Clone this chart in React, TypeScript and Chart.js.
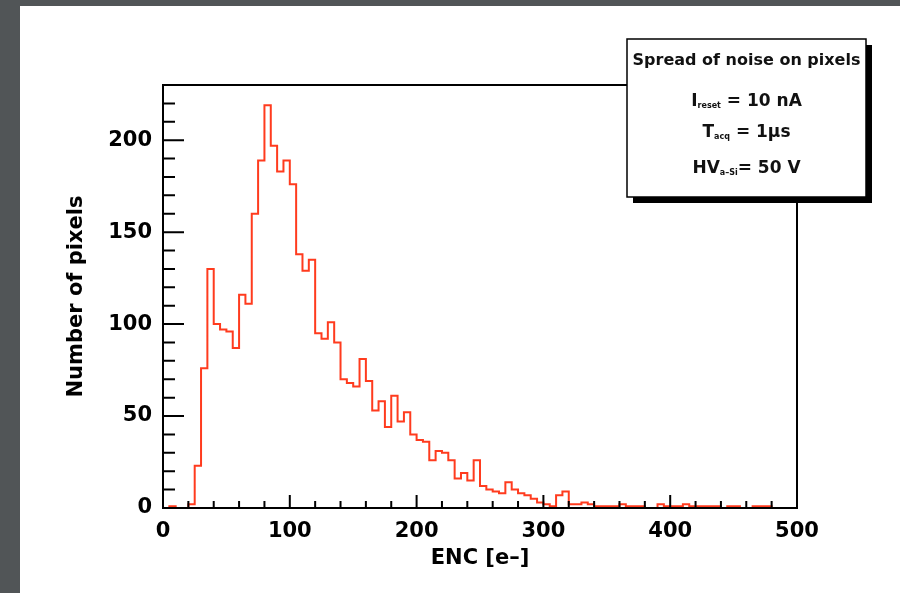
import React, { useEffect, useRef } from 'react';
import { Chart, registerables } from 'chart.js';

Chart.register(...registerables);

// ---- data ----
const BIN_WIDTH = 5;
const X_START = 0;
const COUNTS = [
  0, 1, 0, 0, 2, 23, 76, 130, 100, 97,
  96, 87, 116, 111, 160, 189, 219, 197, 183, 189,
  176, 138, 129, 135, 95, 92, 101, 90, 70, 68,
  66, 81, 69, 53, 58, 44, 61, 47, 52, 40,
  37, 36, 26, 31, 30, 26, 16, 19, 15, 26,
  12, 10, 9, 8, 14, 10, 8, 7, 5, 3,
  2, 1, 7, 9, 2, 2, 3, 2, 1, 1,
  1, 1, 2, 1, 1, 1, 0, 0, 2, 1,
  1, 1, 2, 1, 1, 1, 1, 1, 0, 1,
  1, 0, 0, 1, 1, 1, 0, 0, 0, 0,
];
const X_RANGE = [0, 500];
const Y_RANGE = [0, 230];
const X_TICKS = [0, 100, 200, 300, 400, 500];
const Y_TICKS = [0, 50, 100, 150, 200];
const X_MINOR_STEP = 20;
const Y_MINOR_STEP = 10;
const X_TITLE = 'ENC [e–]';
const Y_TITLE = 'Number of pixels';
const BOX_TITLE = 'Spread of noise on pixels';
const BOX_LINES = [
  [{ text: 'I' }, { text: 'reset', sub: true }, { text: ' = 10 nA' }],
  [{ text: 'T' }, { text: 'acq', sub: true }, { text: ' = 1μs' }],
  [{ text: 'HV' }, { text: 'a–Si', sub: true }, { text: '= 50 V' }],
];

const FONT = 'DejaVu Sans';
const LINE_COLOR = '#ff3b1e';

function drawRich(ctx: CanvasRenderingContext2D, parts: any[], cx: number, baseline: number) {
  const main = `bold 17px "${FONT}"`;
  const sub = `bold 8px "${FONT}"`;
  let total = 0;
  const widths = parts.map((p) => {
    ctx.font = p.sub ? sub : main;
    const w = ctx.measureText(p.text).width;
    total += w;
    return w;
  });
  let x = cx - total / 2;
  parts.forEach((p, i) => {
    ctx.font = p.sub ? sub : main;
    ctx.fillText(p.text, x, p.sub ? baseline + 2 : baseline);
    x += widths[i];
  });
}

const framePlugin = {
  id: 'rootFrame',
  beforeDraw(chart: any) {
    const { ctx, width, height } = chart;
    ctx.save();
    ctx.fillStyle = '#515557';
    ctx.fillRect(0, 0, width, height);
    ctx.fillStyle = '#ffffff';
    ctx.fillRect(20, 6, width - 20, height - 6);
    ctx.restore();
  },
  afterDraw(chart: any) {
    const { ctx, chartArea: a, scales } = chart;
    const xs = scales.x;
    const ys = scales.y;
    ctx.save();
    ctx.strokeStyle = '#000';
    ctx.lineWidth = 2;
    ctx.strokeRect(a.left, a.top, a.right - a.left, a.bottom - a.top);
    ctx.beginPath();
    for (let v = X_RANGE[0]; v <= X_RANGE[1]; v += X_MINOR_STEP) {
      const px = xs.getPixelForValue(v);
      const len = X_TICKS.includes(v) ? 13 : 7;
      ctx.moveTo(px, a.bottom);
      ctx.lineTo(px, a.bottom - len);
    }
    for (let v = Y_RANGE[0]; v <= Y_RANGE[1]; v += Y_MINOR_STEP) {
      const py = ys.getPixelForValue(v);
      const len = Y_TICKS.includes(v) ? 21 : 12;
      ctx.moveTo(a.left, py);
      ctx.lineTo(a.left + len, py);
    }
    ctx.stroke();

    // info box
    const bx = 627, by = 39, bw = 239, bh = 158;
    ctx.fillStyle = '#000';
    ctx.fillRect(bx + 6, by + 6, bw, bh);
    ctx.fillStyle = '#fff';
    ctx.fillRect(bx, by, bw, bh);
    ctx.lineWidth = 1.5;
    ctx.strokeRect(bx, by, bw, bh);
    ctx.fillStyle = '#111';
    ctx.textAlign = 'center';
    ctx.textBaseline = 'alphabetic';
    ctx.font = `bold 16px "${FONT}"`;
    const cx = bx + bw / 2;
    ctx.fillText(BOX_TITLE, cx, 65);
    ctx.textAlign = 'left';
    const baselines = [106, 137, 173];
    BOX_LINES.forEach((line, i) => drawRich(ctx, line, cx, baselines[i]));
    ctx.restore();
  },
};

export default function App() {
  const ref = useRef<HTMLCanvasElement>(null);
  useEffect(() => {
    if (!ref.current) return;
    const points = COUNTS.map((c, i) => ({ x: X_START + i * BIN_WIDTH, y: c }));
    points.push({ x: X_START + COUNTS.length * BIN_WIDTH, y: COUNTS[COUNTS.length - 1] });
    const tickFont = { family: FONT, weight: 'bold' as const, size: 21 };
    const chart = new Chart(ref.current, {
      type: 'line',
      data: {
        datasets: [
          {
            data: points,
            borderColor: LINE_COLOR,
            borderWidth: 2,
            pointRadius: 0,
            stepped: 'before',
            fill: false,
            tension: 0,
          },
        ],
      },
      options: {
        animation: false,
        responsive: false,
        devicePixelRatio: 1,
        layout: { padding: { left: 0, right: 103, top: 85, bottom: 0 } },
        plugins: { legend: { display: false }, tooltip: { enabled: false } },
        scales: {
          x: {
            type: 'linear',
            min: X_RANGE[0],
            max: X_RANGE[1],
            grid: { display: false, drawTicks: false },
            border: { display: false },
            afterBuildTicks: (s: any) => {
              s.ticks = X_TICKS.map((v) => ({ value: v }));
            },
            afterFit: (s: any) => {
              s.height = 85;
            },
            ticks: { font: tickFont, color: '#000', padding: 11, maxRotation: 0, autoSkip: false },
            title: {
              display: true,
              text: X_TITLE,
              color: '#000',
              font: tickFont,
              padding: { top: 0, bottom: 22 },
            },
          },
          y: {
            type: 'linear',
            min: Y_RANGE[0],
            max: Y_RANGE[1],
            grid: { display: false, drawTicks: false },
            border: { display: false },
            afterBuildTicks: (s: any) => {
              s.ticks = Y_TICKS.map((v) => ({ value: v }));
            },
            afterFit: (s: any) => {
              s.width = 163;
            },
            ticks: { font: tickFont, color: '#000', padding: 11, autoSkip: false },
            title: {
              display: true,
              text: Y_TITLE,
              color: '#000',
              font: tickFont,
              padding: { top: 64, bottom: 0 },
            },
          },
        },
      },
      plugins: [framePlugin],
    });
    return () => chart.destroy();
  }, []);
  return (
    <div style={{ position: 'absolute', left: 0, top: 0, width: 900, height: 593 }}>
      <canvas ref={ref} width={900} height={593} style={{ display: 'block' }} />
    </div>
  );
}
